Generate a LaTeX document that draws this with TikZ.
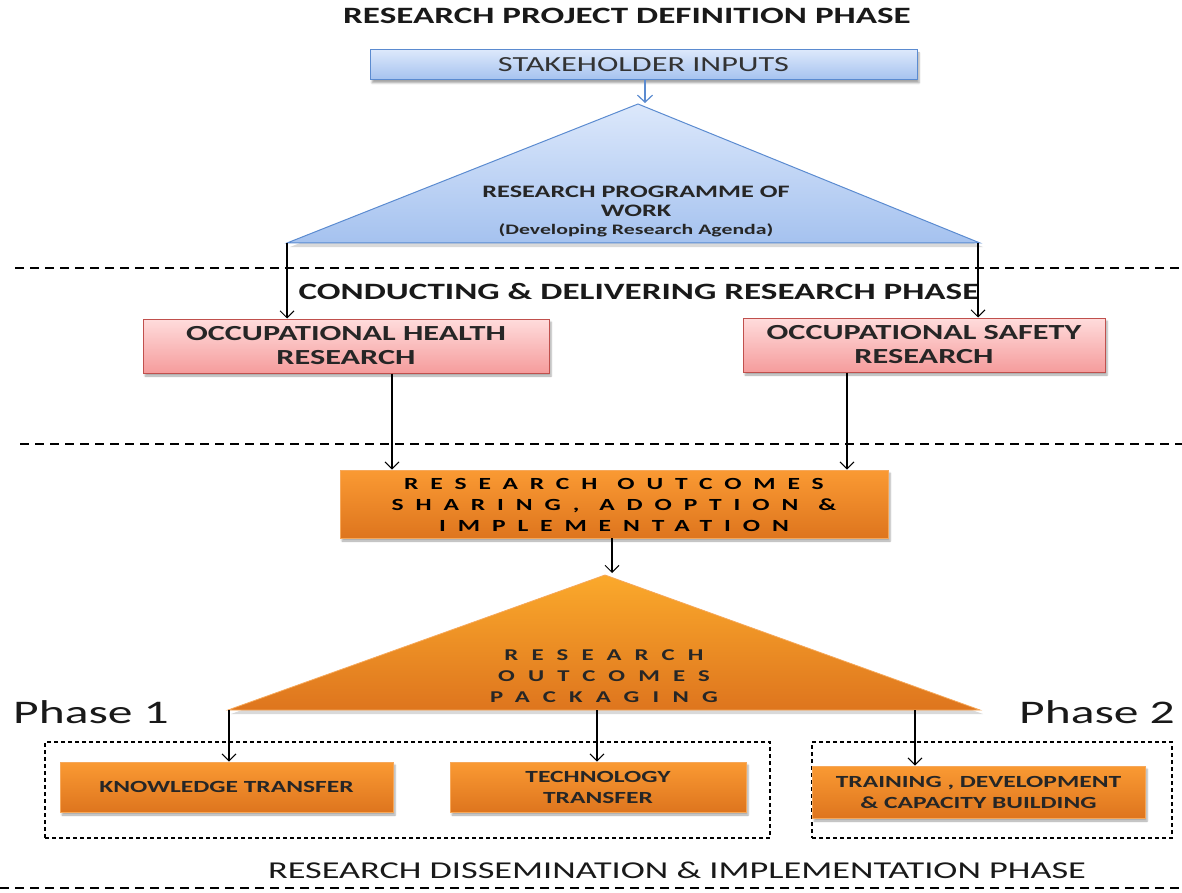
\documentclass[tikz,border=0pt]{standalone}
\usepackage{fontspec}
\setmainfont{Carlito}[FakeStretch=1.5]
\usetikzlibrary{arrows.meta,shadows.blur}
\definecolor{bluetop}{HTML}{DCE8FB}
\definecolor{bluebot}{HTML}{A5C2EF}
\definecolor{blueedge}{HTML}{5B8BD0}
\definecolor{pinktop}{HTML}{FFDCDC}
\definecolor{pinkbot}{HTML}{F59C9C}
\definecolor{pinkedge}{HTML}{C0504D}
\definecolor{orgtop}{HTML}{FA9A33}
\definecolor{orgbot}{HTML}{DE751E}
\definecolor{orgedge}{HTML}{F6A85A}
\tikzset{
  shadowed/.style={blur shadow={shadow xshift=2pt,shadow yshift=-3pt,shadow blur steps=5,shadow opacity=35}},
  bluebox/.style={shadowed,top color=bluetop,bottom color=bluebot,draw=blueedge,line width=1pt,inner sep=0pt,align=center},
  pinkbox/.style={shadowed,top color=pinktop,bottom color=pinkbot,draw=pinkedge,line width=1pt,inner sep=0pt,align=center,font=\fontsize{21.5}{24}\selectfont\bfseries,text=black!85},
  orgbox/.style={shadowed,top color=orgtop,bottom color=orgbot,draw=orgedge,line width=0.8pt,inner sep=0pt,align=center,text=black!85},
  conn/.style={line width=1.3pt,-{Straight Barb[length=7pt,width=14pt,line width=1pt]}},
  phaseline/.style={dashed,dash pattern=on 9pt off 6pt,line width=1.2pt},
  phasebox/.style={dashed,dash pattern=on 4pt off 3pt,line width=1.2pt},
  spaced/.style={font=\fontsize{17}{21}\selectfont\bfseries\addfontfeature{LetterSpace=70}},
}
\begin{document}
\begin{tikzpicture}[x=1pt,y=-1pt]
\useasboundingbox (0,0) rectangle (1182,893);
% titles
\node[font=\fontsize{23.4}{26}\selectfont\bfseries,text=black!90] (t1) at (627,16) {RESEARCH PROJECT DEFINITION PHASE};
\node[font=\fontsize{23.4}{26}\selectfont\bfseries,text=black!90] (t2) at (639,292) {CONDUCTING \& DELIVERING RESEARCH PHASE};
\node[font=\fontsize{24.2}{28}\selectfont,text=black!90] (t3) at (677,870) {RESEARCH DISSEMINATION \& IMPLEMENTATION PHASE};
\node[font=\fontsize{33}{38}\selectfont,text=black!90] (p1) at (91,712) {Phase 1};
\node[font=\fontsize{33}{38}\selectfont,text=black!90] (p2) at (1097,712) {Phase 2};
% dashed phase lines
\draw[phaseline] (15,268) -- (1182,268);
\draw[phaseline] (20,444) -- (1182,444);
\draw[phaseline] (0,888) -- (1182,888);
% stakeholder box
\node[bluebox,minimum width=547pt,minimum height=30pt,font=\fontsize{21.5}{24}\selectfont,text=black!80] (stake) at (643.5,65) {STAKEHOLDER INPUTS};
% blue triangle
\coordinate (ba) at (638,104);
\coordinate (bl) at (287,243);
\coordinate (br) at (980,243);
\fill[black,opacity=0.15] (641,108) -- (290,247) -- (983,247) -- cycle;
\path[top color=bluetop,bottom color=bluebot,draw=blueedge,line width=1pt] (ba) -- (bl) -- (br) -- cycle;
\node[align=center,font=\fontsize{17.5}{19}\selectfont\bfseries,text=black!85] (prog) at (636,211) {RESEARCH PROGRAMME OF\\WORK\\[-1pt]{\fontsize{14.5}{15}\selectfont(Developing Research Agenda)}};
\draw[blueedge,line width=1.3pt,-{Straight Barb[length=7pt,width=15pt,line width=1.2pt]}] (stake.south -| 645,0) -- (645,103);
% pink boxes
\node[pinkbox,minimum width=406pt,minimum height=54pt] (hlth) at (346,346) {OCCUPATIONAL HEALTH\\RESEARCH};
\node[pinkbox,minimum width=362pt,minimum height=54pt] (sfty) at (924,345) {OCCUPATIONAL SAFETY\\RESEARCH};
\draw[conn] (bl) -- (bl |- hlth.north);
\draw[conn] ([xshift=-2pt]br) -- ([xshift=-2pt]br |- sfty.north);
% sharing box
\node[orgbox,minimum width=548pt,minimum height=68pt] (share) at (614,504) {};
\node[spaced,align=center] (sharetxt) at (614,505) {RESEARCH\hspace{20pt}OUTCOMES\\SHARING,\hspace{20pt}ADOPTION\hspace{20pt}\&\\IMPLEMENTATION};
\draw[conn] (hlth.south -| 392,0) -- (share.north -| 392,0);
\draw[conn] (sfty.south -| 847,0) -- (share.north -| 847,0);
% orange triangle
\coordinate (oa) at (605,575);
\coordinate (ol) at (228,710);
\coordinate (or) at (980,710);
\fill[black,opacity=0.15] (608,579) -- (231,714) -- (983,714) -- cycle;
\path[top color=orgtop!85!yellow,bottom color=orgbot,draw=orgedge,line width=0.8pt] (oa) -- (ol) -- (or) -- cycle;
\node[align=center,text=black!85,font=\fontsize{16.5}{21}\selectfont\bfseries\addfontfeature{LetterSpace=80}] (pack) at (604,676) {RESEARCH\\OUTCOMES\\PACKAGING};
\draw[conn] (share.south -| 612,0) -- (612,573);
% dashed phase boxes
\node[phasebox,draw,minimum width=725pt,minimum height=96pt] (ph1) at (407.5,790) {};
\node[phasebox,draw,minimum width=360pt,minimum height=96pt] (ph2) at (992,790) {};
% bottom boxes
\node[orgbox,minimum width=333pt,minimum height=50pt,font=\fontsize{17}{18}\selectfont\bfseries] (kt) at (226.5,787) {KNOWLEDGE TRANSFER};
\node[orgbox,minimum width=296pt,minimum height=50pt,font=\fontsize{17}{21}\selectfont\bfseries] (tt) at (598,787) {TECHNOLOGY\\TRANSFER};
\node[orgbox,minimum width=333pt,minimum height=52pt,font=\fontsize{17}{21}\selectfont\bfseries] (tdc) at (978.5,792) {TRAINING , DEVELOPMENT\\\& CAPACITY BUILDING};
\draw[conn] (229,710) -- (kt.north -| 229,0);
\draw[conn] (597,710) -- (tt.north -| 597,0);
\draw[conn] (915,710) -- (tdc.north -| 915,0);
\end{tikzpicture}
\end{document}
